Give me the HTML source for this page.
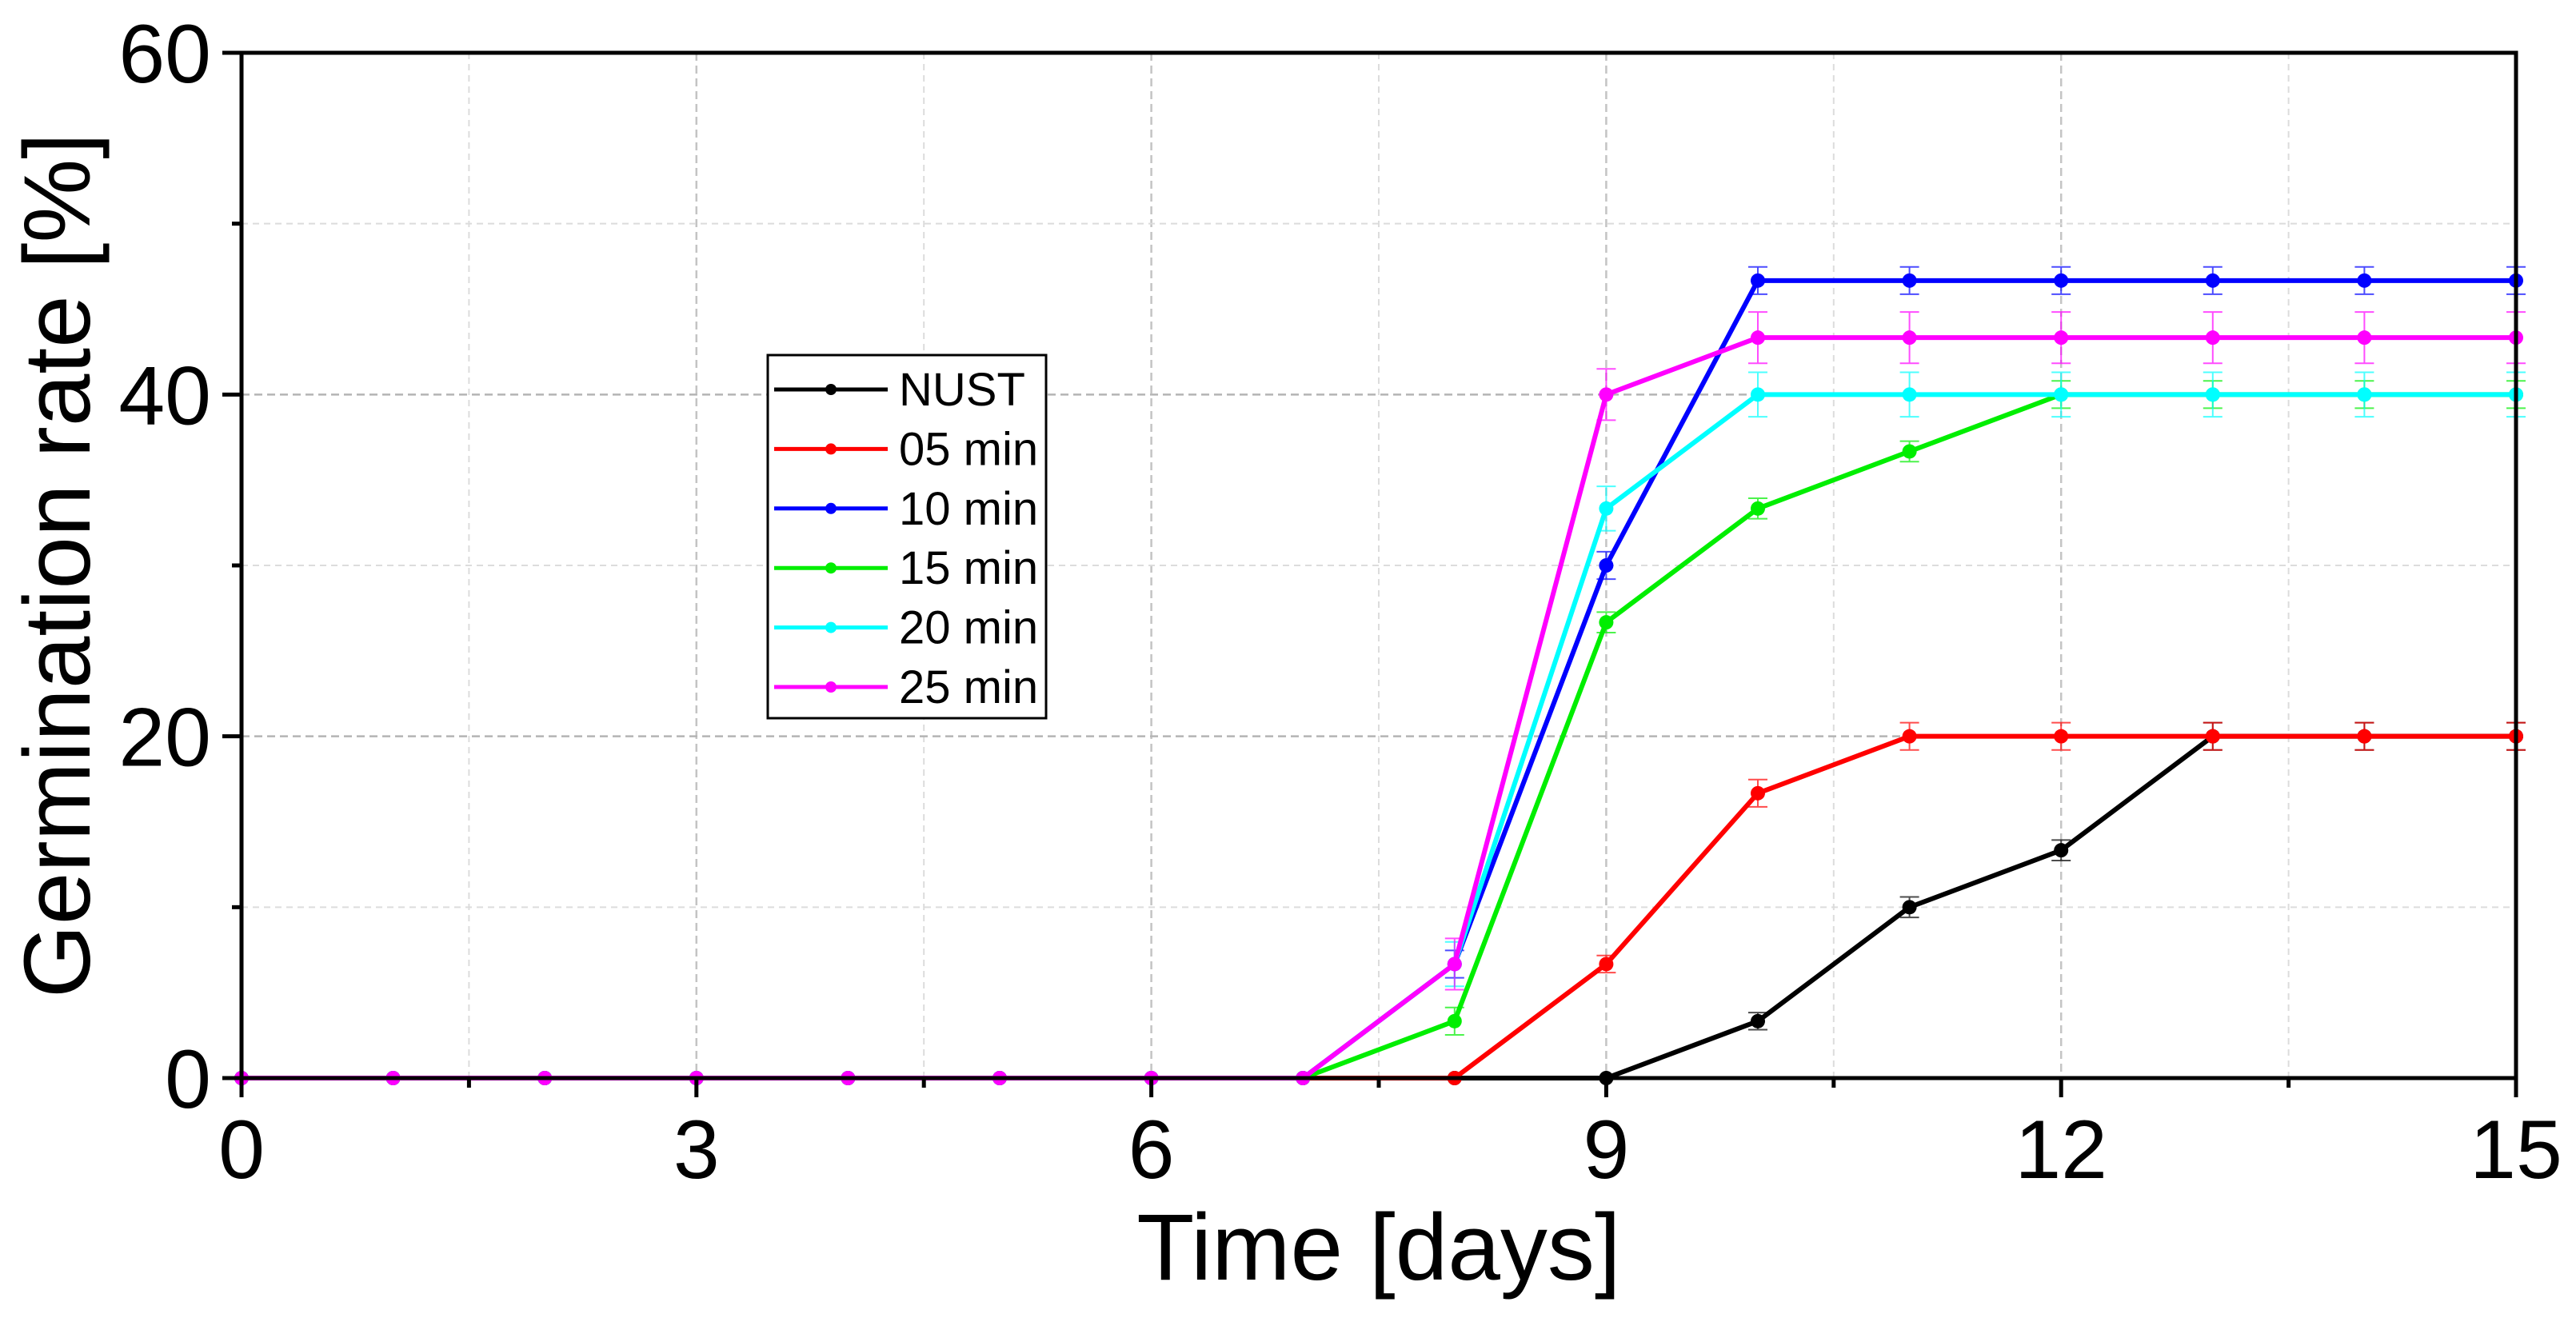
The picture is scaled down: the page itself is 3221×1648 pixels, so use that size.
<!DOCTYPE html>
<html><head><meta charset="utf-8"><style>
html,body{margin:0;padding:0;background:#fff;}
svg{display:block;font-family:"Liberation Sans",Arial,sans-serif;}
</style></head><body>
<svg id="chart" width="3221" height="1648" viewBox="0 0 3221 1648" xmlns="http://www.w3.org/2000/svg">
<g id="grid"></g>
<g id="series"></g>
<g id="axes"></g>
<text x="1724" y="1600" font-size="118" text-anchor="middle">Time [days]</text>
<text transform="translate(112,707) rotate(-90)" font-size="118" text-anchor="middle">Germination rate [%]</text>
<g id="legend"></g>
</svg>
<script>
const days = [0,1,2,3,4,5,6,7,8,9,10,11,12,13,14,15];
const seriesNames = ["NUST","05 min","10 min","15 min","20 min","25 min"];
const seriesColors = ["#000000","#ff0000","#0000ff","#00ee00","#00ffff","#ff00ff"];
const nust = [0,0,0,0,0,0,0,0,0,0,3.33,10,13.33,20,20,20];
const min05 = [0,0,0,0,0,0,0,0,0,6.67,16.67,20,20,20,20,20];
const min10 = [0,0,0,0,0,0,0,0,6.67,30,46.67,46.67,46.67,46.67,46.67,46.67];
const min15 = [0,0,0,0,0,0,0,0,3.33,26.67,33.33,36.67,40,40,40,40];
const min20 = [0,0,0,0,0,0,0,0,6.67,33.33,40,40,40,40,40,40];
const min25 = [0,0,0,0,0,0,0,0,6.67,40,43.33,43.33,43.33,43.33,43.33,43.33];
const errNust = [0,0,0,0,0,0,0,0,0,0,0.5,0.6,0.6,0.8,0.8,0.8];
const err05 = [0,0,0,0,0,0,0,0,0,0.5,0.8,0.8,0.8,0.8,0.8,0.8];
const err10 = [0,0,0,0,0,0,0,0,0.8,0.8,0.8,0.8,0.8,0.8,0.8,0.8];
const err15 = [0,0,0,0,0,0,0,0,0.8,0.6,0.6,0.6,0.8,0.8,0.8,0.8];
const err20 = [0,0,0,0,0,0,0,0,1.3,1.3,1.3,1.3,1.3,1.3,1.3,1.3];
const err25 = [0,0,0,0,0,0,0,0,1.5,1.5,1.5,1.5,1.5,1.5,1.5,1.5];
const xTicks = [0,3,6,9,12,15];
const yTicks = [0,20,40,60];
const allSeries = [nust,min05,min10,min15,min20,min25];
const allErr = [errNust,err05,err10,err15,err20,err25];

const L=302,R=3146,T=66,B=1348;
const xs = d => L + (d-0)/(15-0)*(R-L);
const ys = v => B - (v-0)/(60-0)*(B-T);
const NS="http://www.w3.org/2000/svg";
function mk(tag,attrs,parent){const e=document.createElementNS(NS,tag);for(const k in attrs)e.setAttribute(k,attrs[k]);parent.appendChild(e);return e;}
const grid=document.getElementById('grid'),axes=document.getElementById('axes'),ser=document.getElementById('series'),leg=document.getElementById('legend');

for(let i=0;i<xTicks.length-1;i++){
  const a=xTicks[i],b=xTicks[i+1],m=(a+b)/2;
  const g1=mk('line',{x1:xs(m),x2:xs(m),y1:T,y2:B,stroke:'#dcdcdc','stroke-width':2,'stroke-dasharray':'8,6'},grid);
  
  if(i>0){const g=mk('line',{x1:xs(a),x2:xs(a),y1:T,y2:B,stroke:'#c4c4c4','stroke-width':2.5,'stroke-dasharray':'10,6'},grid);
  }
}
for(let i=0;i<yTicks.length-1;i++){
  const a=yTicks[i],b=yTicks[i+1],m=(a+b)/2;
  const g1=mk('line',{x1:L,x2:R,y1:ys(m),y2:ys(m),stroke:'#dcdcdc','stroke-width':2,'stroke-dasharray':'8,6'},grid);
  
  if(i>0){const g=mk('line',{x1:L,x2:R,y1:ys(a),y2:ys(a),stroke:'#b4b4b4','stroke-width':2.5,'stroke-dasharray':'10,6'},grid);
  }
}

allSeries.forEach((vals,si)=>{
  const col=seriesColors[si];
  const g=mk('g',{},ser);
  
  
  const errs=allErr[si];
  vals.forEach((v,i)=>{
    if(errs[i]>0){
      const x=xs(days[i]),y1=ys(v-errs[i]),y2=ys(v+errs[i]);
      const eb=mk('path',{d:`M${x},${y1}V${y2}M${x-12},${y1}H${x+12}M${x-12},${y2}H${x+12}`,stroke:col,'stroke-width':2,fill:'none',opacity:0.7},g);
      
    }
  });
  const pts=vals.map((v,i)=>xs(days[i])+','+ys(v)).join(' ');
  const pl=mk('polyline',{points:pts,fill:'none',stroke:col,'stroke-width':6,'stroke-linejoin':'round'},g);
  
  vals.forEach((v,i)=>{
    const c=mk('circle',{cx:xs(days[i]),cy:ys(v),r:9,fill:col},g);
    
  });
});

const frame=mk('rect',{x:L,y:T,width:R-L,height:B-T,fill:'none',stroke:'#000','stroke-width':5},axes);

for(let i=0;i<xTicks.length;i++){
  const v=xTicks[i];
  const t=mk('line',{x1:xs(v),x2:xs(v),y1:B,y2:B+24,stroke:'#000','stroke-width':5},axes);
  
  const lb=mk('text',{x:xs(v),y:B+125,'font-size':104,'text-anchor':'middle'},axes);lb.textContent=v;
  
  if(i<xTicks.length-1){const m=(v+xTicks[i+1])/2;
    const mt=mk('line',{x1:xs(m),x2:xs(m),y1:B,y2:B+12,stroke:'#000','stroke-width':5},axes);
    }
}
for(let i=0;i<yTicks.length;i++){
  const v=yTicks[i];
  const t=mk('line',{x1:L-24,x2:L,y1:ys(v),y2:ys(v),stroke:'#000','stroke-width':5},axes);
  
  const lb=mk('text',{x:L-38,y:ys(v)+37,'font-size':104,'text-anchor':'end'},axes);lb.textContent=v;
  
  if(i<yTicks.length-1){const m=(v+yTicks[i+1])/2;
    const mt=mk('line',{x1:L-12,x2:L,y1:ys(m),y2:ys(m),stroke:'#000','stroke-width':5},axes);
    }
}

const lb=mk('rect',{x:960,y:444,width:348,height:454,fill:'#fff',stroke:'#000','stroke-width':3},leg);

seriesNames.forEach((n,i)=>{
  const y=487+i*74.4;
  const g=mk('g',{},leg);
  
  mk('line',{x1:968,x2:1110,y1:y,y2:y,stroke:seriesColors[i],'stroke-width':5},g);
  mk('circle',{cx:1039,cy:y,r:7,fill:seriesColors[i]},g);
  const t=mk('text',{x:1124,y:y+20,'font-size':58},g);t.textContent=n;
});
</script>
</body></html>
